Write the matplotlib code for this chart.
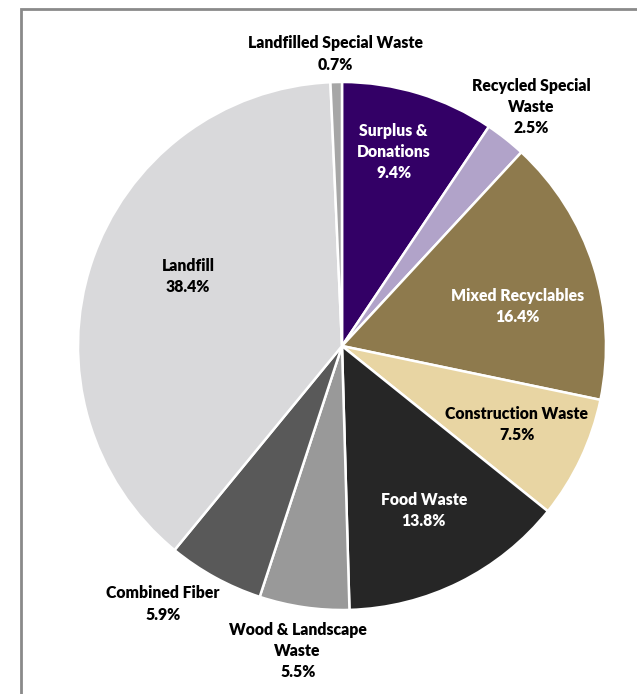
import numpy as np
import matplotlib
matplotlib.use("Agg")
import matplotlib.pyplot as plt
from matplotlib.patches import Rectangle

# ---- data ----
labels = ["Surplus &\nDonations", "Recycled Special\nWaste", "Mixed Recyclables",
          "Construction Waste", "Food Waste", "Wood & Landscape\nWaste",
          "Combined Fiber", "Landfill", "Landfilled Special Waste"]
shares = [9.4, 2.5, 16.4, 7.5, 13.8, 5.5, 5.9, 38.4, 0.7]
colors = ["#330066", "#b1a3c9", "#8e7a4d", "#e8d5a3", "#262626",
          "#999999", "#595959", "#d9d9db", "#a6a6a6"]
text_colors = ["white", "black", "white", "black", "white",
               "black", "black", "black", "black"]

# label placement (radius as fraction of pie radius, angle tweak in deg)
lab_r = [0.76, 1.155, 0.68, 0.726, 0.696, 1.167, 1.19, 0.64, 1.106]
lab_dang = [2, 0, -5, 1, 0, 0, -6, -6, 0]

W, H = 637, 694
cx, cy, R = 342, 346, 264  # pixel geometry of the pie

plt.rcParams['font.family'] = ['Lato', 'DejaVu Sans']
fig = plt.figure(figsize=(W / 100, H / 100), dpi=100)
ax = fig.add_axes([0, 0, 1, 1])

wedges, _ = ax.pie(shares, colors=colors, startangle=90, counterclock=False,
                   radius=1, wedgeprops=dict(edgecolor="white", linewidth=1.8))

total = sum(shares)
cum = np.cumsum([0] + shares[:-1])
for i, (lab, v) in enumerate(zip(labels, shares)):
    mid = 90 - 360 * (cum[i] + v / 2) / total + lab_dang[i]
    x = lab_r[i] * np.cos(np.radians(mid))
    y = lab_r[i] * np.sin(np.radians(mid))
    ax.text(x, y, f"{lab}\n{v:.1f}%", ha="center", va="center",
            color=text_colors[i], fontsize=11.3, fontweight="heavy",
            linespacing=1.4)

ax.set_xlim(-cx / R, (W - cx) / R)
ax.set_ylim(-(H - cy) / R, cy / R)
ax.set_aspect("auto")
ax.axis("off")

# outer frame of the chart area
fig.patches.append(Rectangle((21 / W, -0.05), 1.2, 1 - 9 / H + 0.05,
                             transform=fig.transFigure, fill=False,
                             edgecolor="#8a8a8a", linewidth=2))

fig.savefig("out.png", dpi=100)
